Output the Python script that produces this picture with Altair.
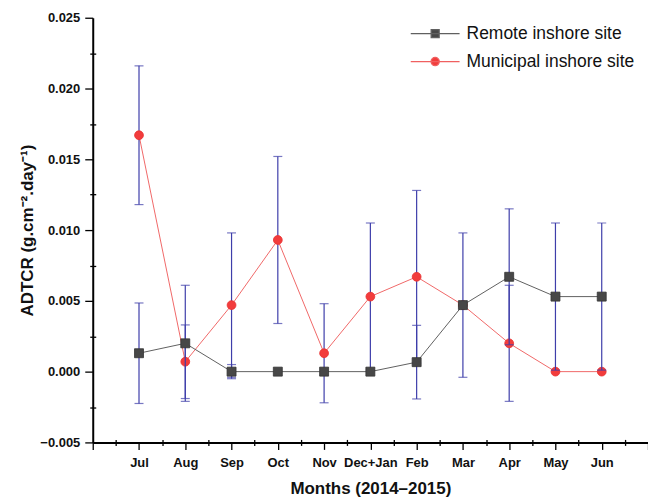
import json
import altair as alt
import pandas as pd

months = ["Jul", "Aug", "Sep", "Oct", "Nov", "Dec+Jan", "Feb", "Mar", "Apr", "May", "Jun"]
remote = [0.0013, 0.0020, 0.0, 0.0, 0.0, 0.0, 0.00067, 0.0047, 0.0067, 0.0053, 0.0053]
remote_err = [0.00355, 0.0041, 0.0005, 0.0, 0.0, 0.0, 0.0026, 0.0051, 0.0048, 0.0052, 0.0052]
municipal = [0.0167, 0.0007, 0.0047, 0.0093, 0.0013, 0.0053, 0.0067, 0.0047, 0.0020, 0.0, 0.0]
municipal_err = [0.0049, 0.0026, 0.0051, 0.0059, 0.0035, 0.0052, 0.0061, 0.0, 0.0041, 0.0, 0.0]
series_names = ["Remote inshore site", "Municipal inshore site"]

y_major = [-0.005, 0.0, 0.005, 0.010, 0.015, 0.020, 0.025]
y_minor = [-0.0025, 0.0025, 0.0075, 0.0125, 0.0175, 0.0225]
x_major = list(range(0, 13))
x_minor = [i + 0.5 for i in range(12)]

rows = []
for name, vals, errs in [(series_names[0], remote, remote_err), (series_names[1], municipal, municipal_err)]:
    for i, (m, v, e) in enumerate(zip(months, vals, errs)):
        rows.append({"x": i + 1, "month": m, "series": name, "value": v, "err": e,
                     "lo": v - e, "hi": v + e})
df = pd.DataFrame(rows)

FONT = "Liberation Sans"
BLUE = "#3e3eaa"
xs = alt.Scale(domain=[0, 12], nice=False, zero=False)
ys = alt.Scale(domain=[-0.005, 0.025], nice=False, zero=False)

month_js = json.dumps(months)
x_axis_major = alt.Axis(values=x_major, labelExpr=f"(datum.value >= 1 && datum.value <= 11) ? {month_js}[datum.value - 1] : ''",
                        tickSize=7, tickWidth=1.3, tickColor="black", domainWidth=2, domainColor="black",
                        labelFont=FONT, labelFontWeight="bold", labelFontSize=13, labelColor="#111",
                        labelPadding=7, grid=False, orient="bottom",
                        title="Months (2014–2015)", titleFont=FONT, titleFontSize=17, titleFontWeight="bold",
                        titleColor="#111", titlePadding=11)
x_axis_minor = alt.Axis(values=x_minor, tickSize=6, offset=-3, tickWidth=1.3, tickColor="black",
                        domain=False, labels=False, grid=False, orient="bottom", title="")
y_axis_major = alt.Axis(values=y_major, format=".3f", tickSize=8, tickWidth=1.3, tickColor="black",
                        domainWidth=2, domainColor="black", labelFont=FONT, labelFontWeight="bold",
                        labelFontSize=13, labelColor="#111", labelPadding=5, grid=False, orient="left",
                        title="ADTCR (g.cm⁻².day⁻¹)", titleFont=FONT, titleFontSize=17,
                        titleFontWeight="bold", titleColor="#111", titlePadding=3)
y_axis_minor = alt.Axis(values=y_minor, tickSize=6, offset=-3, tickWidth=1.3, tickColor="black",
                        domain=False, labels=False, grid=False, orient="left", title="")


def series_layers(name, line_color, fill, stroke, shape, size, xaxis=None, yaxis=None):
    base = alt.Chart(df).transform_filter(alt.datum.series == name)
    if xaxis is not None:
        xenc = alt.X("x:Q", scale=xs, axis=xaxis)
        yenc = alt.Y("value:Q", scale=ys, axis=yaxis)
    else:
        xenc = alt.X("x:Q", scale=xs, axis=None)
        yenc = alt.Y("value:Q", scale=ys, axis=None)
    line = base.mark_line(color=line_color, strokeWidth=1).encode(x=xenc, y=yenc)
    eb = base.transform_filter(alt.datum.err > 0)
    bars = eb.mark_rule(color=BLUE, strokeWidth=1.2).encode(
        x=alt.X("x:Q", scale=xs, axis=None), y=alt.Y("lo:Q", scale=ys, axis=None), y2="hi:Q")
    cap_lo = eb.mark_tick(orient="horizontal", size=9, thickness=1.2, color=BLUE).encode(
        x=alt.X("x:Q", scale=xs, axis=None), y=alt.Y("lo:Q", scale=ys, axis=None))
    cap_hi = eb.mark_tick(orient="horizontal", size=9, thickness=1.2, color=BLUE).encode(
        x=alt.X("x:Q", scale=xs, axis=None), y=alt.Y("hi:Q", scale=ys, axis=None))
    pts = base.mark_point(filled=True, shape=shape, size=size, fill=fill, stroke=stroke,
                          strokeWidth=0.8, opacity=1).encode(
        x=alt.X("x:Q", scale=xs, axis=None), y=alt.Y("value:Q", scale=ys, axis=None))
    return [line, bars, cap_lo, cap_hi, pts]


mun = series_layers(series_names[1], "#f06868", "#f23c3c", "#e83030", "circle", 78,
                    xaxis=x_axis_major, yaxis=y_axis_major)
rem = series_layers(series_names[0], "#606060", "#474747", "#333333", "square", 81,
                    xaxis=x_axis_minor, yaxis=y_axis_minor)

sq_path = "M-1,0H1M-0.165,-0.165H0.165V0.165H-0.165Z"
ci_path = "M-1,0H1M0.17,0A0.17,0.17,0,1,1,-0.17,0A0.17,0.17,0,1,1,0.17,0Z"

legend_layer = alt.Chart(df).transform_filter("false").mark_point(filled=True, opacity=1).encode(
    shape=alt.Shape("series:N", scale=alt.Scale(domain=series_names, range=[sq_path, ci_path]),
                    title=None,
                    legend=alt.Legend(orient="none", legendX=318, legendY=6, padding=0,
                                      clipHeight=20, rowPadding=8, symbolSize=2401,
                                      symbolStrokeWidth=1.2, labelFont=FONT, labelFontSize=17.5,
                                      labelColor="#111", labelOffset=6, labelLimit=300)),
    fill=alt.Fill("series:N", scale=alt.Scale(domain=series_names, range=["#474747", "#f23c3c"]),
                  title=None),
    stroke=alt.Stroke("series:N", scale=alt.Scale(domain=series_names, range=["#606060", "#f06060"]),
                      title=None),
)

chart = alt.layer(*(mun + rem + [legend_layer])).resolve_axis(
    x="independent", y="independent"
).properties(
    width=557, height=426,
    padding={"left": 85, "top": 9, "right": 0, "bottom": 58},
    autosize=alt.AutoSizeParams(type="none"),
    background="white",
).configure_view(stroke=None)

chart.save("out.html", embed_options={"renderer": "svg", "actions": False})
